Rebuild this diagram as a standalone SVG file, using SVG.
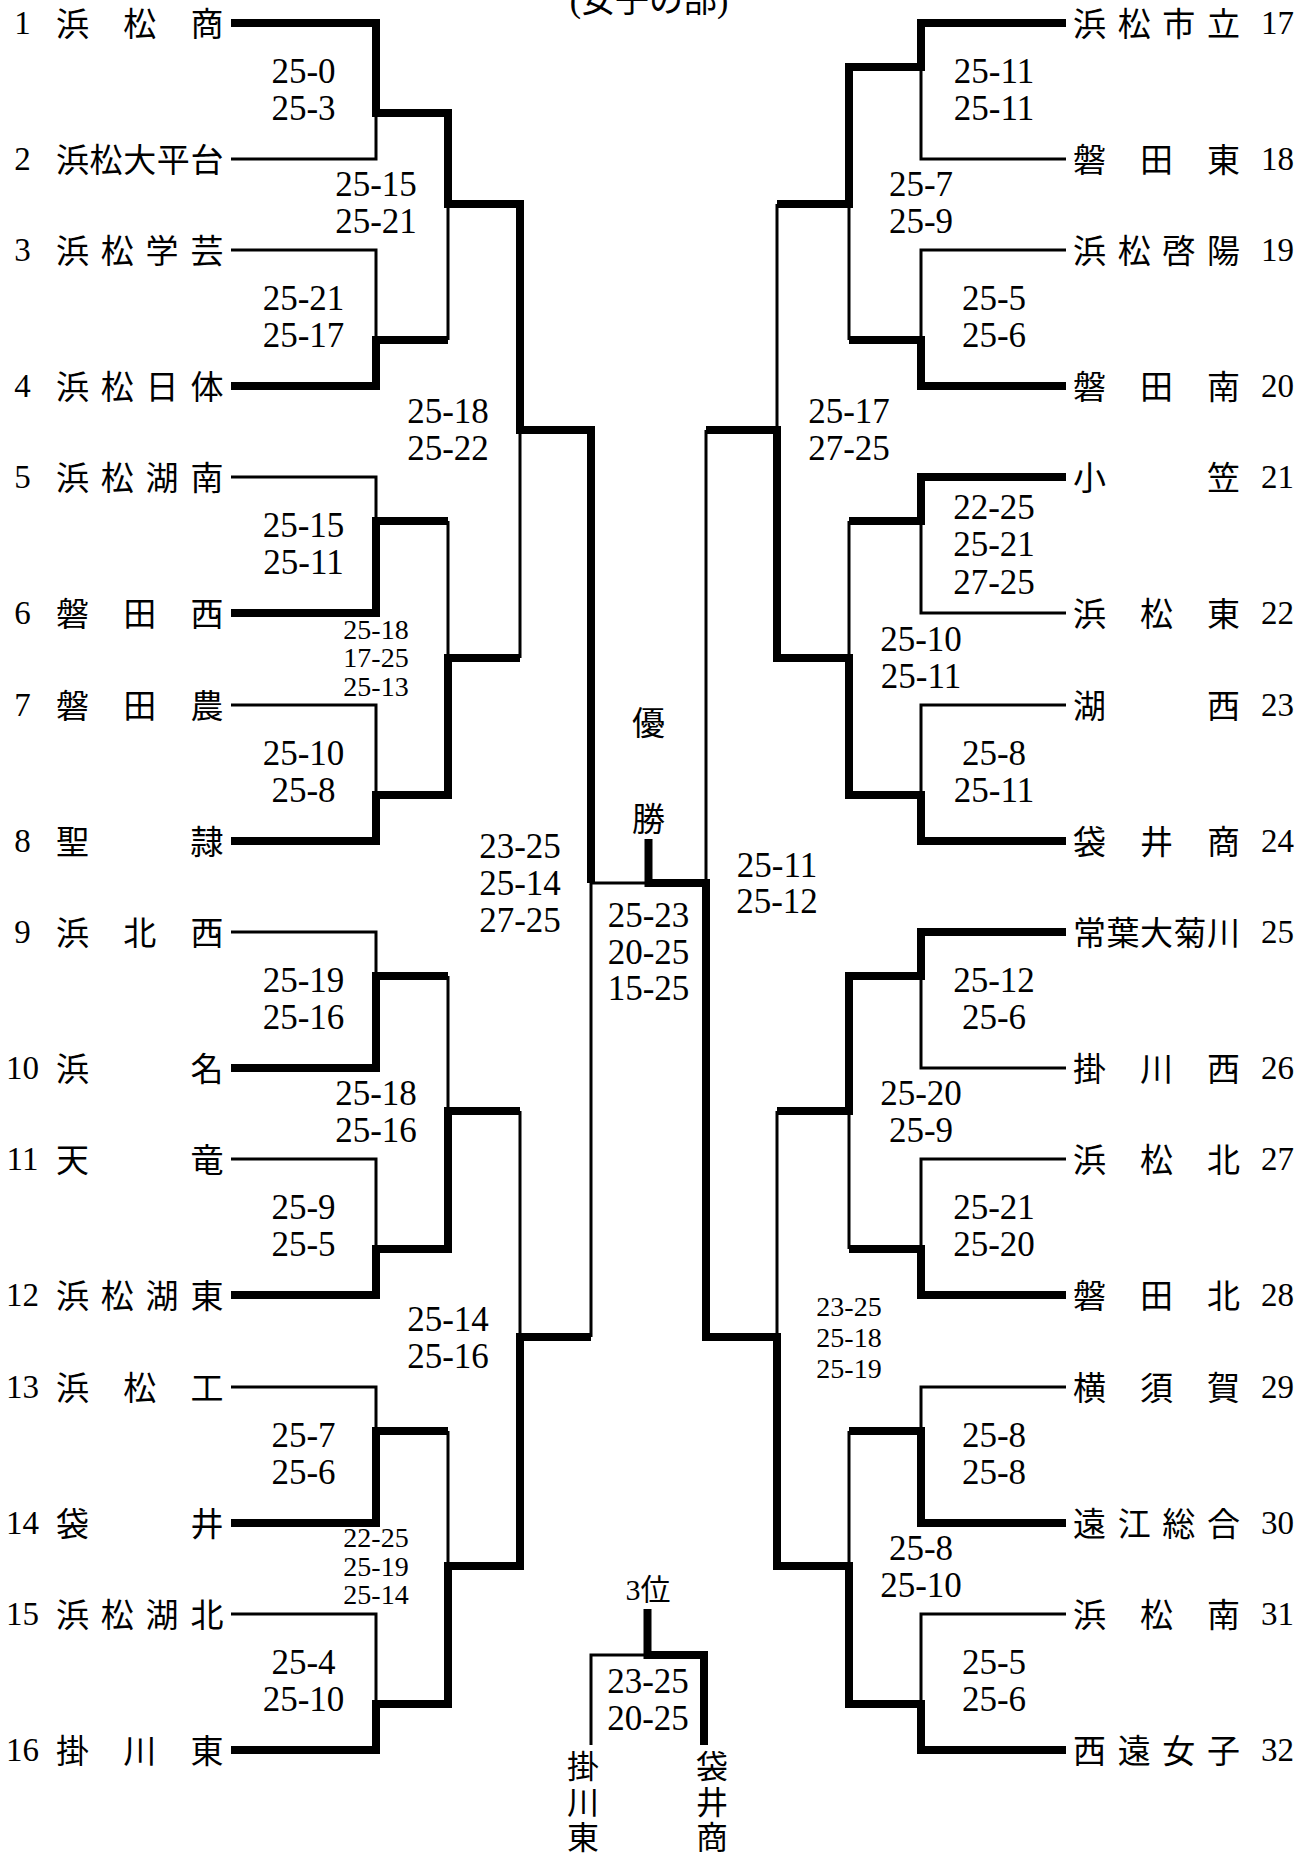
<svg xmlns="http://www.w3.org/2000/svg" width="1311" height="1856" viewBox="0 0 1311 1856">
<style>
text{font-family:"Liberation Serif","Noto Sans CJK JP",serif;fill:#000}
.nm{font-size:33px}
.no{font-size:33px}
.sc{font-size:35px;text-anchor:middle}
.ss{font-size:28px;text-anchor:middle}
.th{stroke:#000;stroke-width:3;fill:none;stroke-linejoin:miter}
.tk{stroke:#000;stroke-width:8;fill:none;stroke-linejoin:miter}
.c{text-anchor:middle}
</style>
<rect width="1311" height="1856" fill="#fff"/>
<g id="title"><text class="c" x="649" y="12" font-size="34">(女子の部)</text></g>
<g id="connectors">
<path class="th" d="M231 23H376V159H231M376 113H448 M231 250H376V386H231M376 340H448 M231 477H376V613H231M376 521H448 M231 705H376V841H231M376 795H448 M231 932H376V1068H231M376 976H448 M231 1159H376V1295H231M376 1249H448 M231 1387H376V1523H231M376 1431H448 M231 1614H376V1750H231M376 1704H448"/>
<path class="th" d="M448 113V340M448 204H520 M448 521V795M448 658H520 M448 976V1249M448 1111H520 M448 1431V1704M448 1566H520 M520 204V658M520 430H591 M520 1111V1566M520 1337H591 M591 430V1337M591 883H706M706 430V1337"/>
<path class="th" d="M1066 23H921V159H1066M921 67H849 M1066 250H921V386H1066M921 340H849 M1066 477H921V613H1066M921 521H849 M1066 705H921V841H1066M921 795H849 M1066 932H921V1068H1066M921 976H849 M1066 1159H921V1295H1066M921 1249H849 M1066 1387H921V1523H1066M921 1431H849 M1066 1614H921V1750H1066M921 1704H849"/>
<path class="th" d="M849 67V340M849 204H777 M849 521V795M849 658H777 M849 976V1249M849 1111H777 M849 1431V1704M849 1566H777 M777 204V658M777 430H706 M777 1111V1566M777 1337H706"/>
<path class="tk" d="M231 23H376V113H448V204H520V430H591V883"/>
<path class="tk" d="M231 386H376V340H448"/>
<path class="tk" d="M231 613H376V521H448"/>
<path class="tk" d="M231 841H376V795H448V658H520"/>
<path class="tk" d="M231 1068H376V976H448"/>
<path class="tk" d="M231 1295H376V1249H448V1111H520"/>
<path class="tk" d="M231 1523H376V1431H448"/>
<path class="tk" d="M231 1750H376V1704H448V1566H520V1337H591"/>
<path class="tk" d="M1066 23H921V67H849V204H777"/>
<path class="tk" d="M1066 386H921V340H849"/>
<path class="tk" d="M1066 477H921V521H849"/>
<path class="tk" d="M1066 841H921V795H849V658H777V430H706"/>
<path class="tk" d="M1066 932H921V976H849V1111H777"/>
<path class="tk" d="M1066 1295H921V1249H849"/>
<path class="tk" d="M1066 1523H921V1431H849"/>
<path class="tk" d="M1066 1750H921V1704H849V1566H777V1337H706V883H648.5V839"/>
<path class="th" d="M591 1745V1655H648"/>
<path class="tk" d="M647.5 1609V1655H704V1745"/>
</g>
<g id="t1"><text class="no c" x="22.5" y="34">1</text><text class="nm" x="56 123.2 190.4" y="35.5">浜松商</text></g>
<g id="t2"><text class="no c" x="22.5" y="170">2</text><text class="nm" x="56 89.6 123.2 156.8 190.4" y="171.5">浜松大平台</text></g>
<g id="t3"><text class="no c" x="22.5" y="261">3</text><text class="nm" x="56 100.8 145.6 190.4" y="262.5">浜松学芸</text></g>
<g id="t4"><text class="no c" x="22.5" y="397">4</text><text class="nm" x="56 100.8 145.6 190.4" y="398.5">浜松日体</text></g>
<g id="t5"><text class="no c" x="22.5" y="488">5</text><text class="nm" x="56 100.8 145.6 190.4" y="489.5">浜松湖南</text></g>
<g id="t6"><text class="no c" x="22.5" y="624">6</text><text class="nm" x="56 123.2 190.4" y="625.5">磐田西</text></g>
<g id="t7"><text class="no c" x="22.5" y="716">7</text><text class="nm" x="56 123.2 190.4" y="717.5">磐田農</text></g>
<g id="t8"><text class="no c" x="22.5" y="852">8</text><text class="nm" x="56 190.4" y="853.5">聖隷</text></g>
<g id="t9"><text class="no c" x="22.5" y="943">9</text><text class="nm" x="56 123.2 190.4" y="944.5">浜北西</text></g>
<g id="t10"><text class="no c" x="22.5" y="1079">10</text><text class="nm" x="56 190.4" y="1080.5">浜名</text></g>
<g id="t11"><text class="no c" x="22.5" y="1170">11</text><text class="nm" x="56 190.4" y="1171.5">天竜</text></g>
<g id="t12"><text class="no c" x="22.5" y="1306">12</text><text class="nm" x="56 100.8 145.6 190.4" y="1307.5">浜松湖東</text></g>
<g id="t13"><text class="no c" x="22.5" y="1398">13</text><text class="nm" x="56 123.2 190.4" y="1399.5">浜松工</text></g>
<g id="t14"><text class="no c" x="22.5" y="1534">14</text><text class="nm" x="56 190.4" y="1535.5">袋井</text></g>
<g id="t15"><text class="no c" x="22.5" y="1625">15</text><text class="nm" x="56 100.8 145.6 190.4" y="1626.5">浜松湖北</text></g>
<g id="t16"><text class="no c" x="22.5" y="1761">16</text><text class="nm" x="56 123.2 190.4" y="1762.5">掛川東</text></g>
<g id="t17"><text class="nm" x="1073 1117.7 1162.3 1207" y="35.5">浜松市立</text><text class="no" x="1261" y="34">17</text></g>
<g id="t18"><text class="nm" x="1073 1140 1207" y="171.5">磐田東</text><text class="no" x="1261" y="170">18</text></g>
<g id="t19"><text class="nm" x="1073 1117.7 1162.3 1207" y="262.5">浜松啓陽</text><text class="no" x="1261" y="261">19</text></g>
<g id="t20"><text class="nm" x="1073 1140 1207" y="398.5">磐田南</text><text class="no" x="1261" y="397">20</text></g>
<g id="t21"><text class="nm" x="1073 1207" y="489.5">小笠</text><text class="no" x="1261" y="488">21</text></g>
<g id="t22"><text class="nm" x="1073 1140 1207" y="625.5">浜松東</text><text class="no" x="1261" y="624">22</text></g>
<g id="t23"><text class="nm" x="1073 1207" y="717.5">湖西</text><text class="no" x="1261" y="716">23</text></g>
<g id="t24"><text class="nm" x="1073 1140 1207" y="853.5">袋井商</text><text class="no" x="1261" y="852">24</text></g>
<g id="t25"><text class="nm" x="1073 1106.5 1140 1173.5 1207" y="944.5">常葉大菊川</text><text class="no" x="1261" y="943">25</text></g>
<g id="t26"><text class="nm" x="1073 1140 1207" y="1080.5">掛川西</text><text class="no" x="1261" y="1079">26</text></g>
<g id="t27"><text class="nm" x="1073 1140 1207" y="1171.5">浜松北</text><text class="no" x="1261" y="1170">27</text></g>
<g id="t28"><text class="nm" x="1073 1140 1207" y="1307.5">磐田北</text><text class="no" x="1261" y="1306">28</text></g>
<g id="t29"><text class="nm" x="1073 1140 1207" y="1399.5">横須賀</text><text class="no" x="1261" y="1398">29</text></g>
<g id="t30"><text class="nm" x="1073 1117.7 1162.3 1207" y="1535.5">遠江総合</text><text class="no" x="1261" y="1534">30</text></g>
<g id="t31"><text class="nm" x="1073 1140 1207" y="1626.5">浜松南</text><text class="no" x="1261" y="1625">31</text></g>
<g id="t32"><text class="nm" x="1073 1117.7 1162.3 1207" y="1762.5">西遠女子</text><text class="no" x="1261" y="1761">32</text></g>
<g id="champion"><text class="c" x="648.5" y="734.5" font-size="33">優</text><text class="c" x="648.5" y="830.5" font-size="33">勝</text></g>
<g id="third">
<text class="c" x="648" y="1600" font-size="30">3位</text>
<text class="c" x="583" y="1778" font-size="32">掛</text><text class="c" x="583" y="1814" font-size="32">川</text><text class="c" x="583" y="1849" font-size="32">東</text>
<text class="c" x="712" y="1778" font-size="32">袋</text><text class="c" x="712" y="1814" font-size="32">井</text><text class="c" x="712" y="1849" font-size="32">商</text>
<text class="sc" x="648" y="1693">23-25</text><text class="sc" x="648" y="1730">20-25</text>
</g>
<g id="scores">
<text class="sc" x="303.5" y="83">25-0</text><text class="sc" x="303.5" y="120">25-3</text>
<text class="sc" x="303.5" y="310">25-21</text><text class="sc" x="303.5" y="347">25-17</text>
<text class="sc" x="376" y="196">25-15</text><text class="sc" x="376" y="233">25-21</text>
<text class="sc" x="303.5" y="537">25-15</text><text class="sc" x="303.5" y="574">25-11</text>
<text class="sc" x="303.5" y="765">25-10</text><text class="sc" x="303.5" y="802">25-8</text>
<text class="ss" x="376" y="639">25-18</text><text class="ss" x="376" y="667">17-25</text><text class="ss" x="376" y="696">25-13</text>
<text class="sc" x="448" y="423">25-18</text><text class="sc" x="448" y="460">25-22</text>
<text class="sc" x="520" y="858">23-25</text><text class="sc" x="520" y="895">25-14</text><text class="sc" x="520" y="932">27-25</text>
<text class="sc" x="303.5" y="992">25-19</text><text class="sc" x="303.5" y="1029">25-16</text>
<text class="sc" x="303.5" y="1219">25-9</text><text class="sc" x="303.5" y="1256">25-5</text>
<text class="sc" x="376" y="1105">25-18</text><text class="sc" x="376" y="1142">25-16</text>
<text class="sc" x="303.5" y="1447">25-7</text><text class="sc" x="303.5" y="1484">25-6</text>
<text class="sc" x="303.5" y="1674">25-4</text><text class="sc" x="303.5" y="1711">25-10</text>
<text class="ss" x="376" y="1547">22-25</text><text class="ss" x="376" y="1576">25-19</text><text class="ss" x="376" y="1604">25-14</text>
<text class="sc" x="448" y="1331">25-14</text><text class="sc" x="448" y="1368">25-16</text>
<text class="sc" x="648.5" y="927">25-23</text><text class="sc" x="648.5" y="964">20-25</text><text class="sc" x="648.5" y="1000">15-25</text>
<text class="sc" x="994" y="83">25-11</text><text class="sc" x="994" y="120">25-11</text>
<text class="sc" x="921" y="196">25-7</text><text class="sc" x="921" y="233">25-9</text>
<text class="sc" x="994" y="310">25-5</text><text class="sc" x="994" y="347">25-6</text>
<text class="sc" x="849" y="423">25-17</text><text class="sc" x="849" y="460">27-25</text>
<text class="sc" x="994" y="519">22-25</text><text class="sc" x="994" y="556">25-21</text><text class="sc" x="994" y="594">27-25</text>
<text class="sc" x="921" y="651">25-10</text><text class="sc" x="921" y="688">25-11</text>
<text class="sc" x="994" y="765">25-8</text><text class="sc" x="994" y="802">25-11</text>
<text class="sc" x="777" y="877">25-11</text><text class="sc" x="777" y="913">25-12</text>
<text class="sc" x="994" y="992">25-12</text><text class="sc" x="994" y="1029">25-6</text>
<text class="sc" x="921" y="1105">25-20</text><text class="sc" x="921" y="1142">25-9</text>
<text class="sc" x="994" y="1219">25-21</text><text class="sc" x="994" y="1256">25-20</text>
<text class="ss" x="849" y="1316">23-25</text><text class="ss" x="849" y="1347">25-18</text><text class="ss" x="849" y="1378">25-19</text>
<text class="sc" x="994" y="1447">25-8</text><text class="sc" x="994" y="1484">25-8</text>
<text class="sc" x="921" y="1560">25-8</text><text class="sc" x="921" y="1597">25-10</text>
<text class="sc" x="994" y="1674">25-5</text><text class="sc" x="994" y="1711">25-6</text>
</g>
</svg>
